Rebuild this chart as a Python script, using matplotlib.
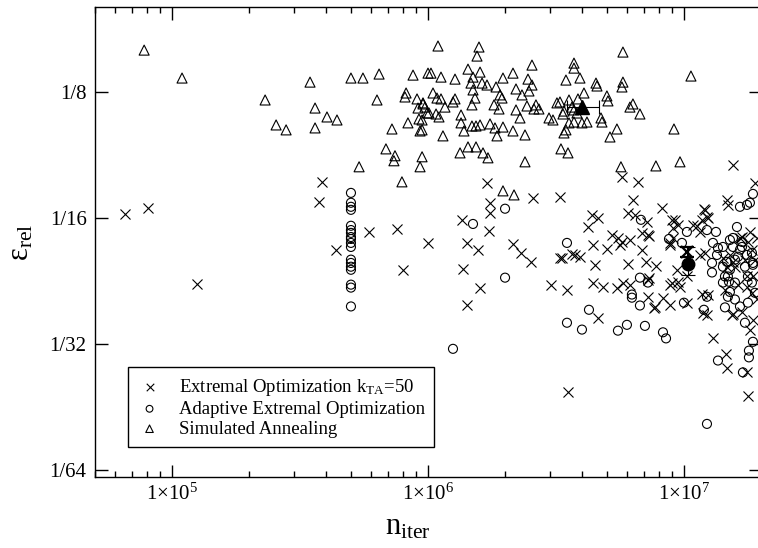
import matplotlib
matplotlib.use("Agg")
import matplotlib.pyplot as plt
from matplotlib.ticker import FixedLocator, FixedFormatter, LogLocator, NullLocator, NullFormatter

plt.rcParams["font.family"] = ["Liberation Serif", "DejaVu Serif"]
plt.rcParams["mathtext.fontset"] = "custom"
plt.rcParams["mathtext.rm"] = "Liberation Serif"
plt.rcParams["mathtext.it"] = "Liberation Serif:italic"

# Simulated Annealing (triangles)
sa_n = [7.78e4, 1.094e5, 3.46e5, 5.0e5, 5.57e5, 6.44e5, 8.74e5, 1.0e6, 2.31e5, 3.62e5,
        4.03e5, 4.41e5, 2.55e5, 2.79e5, 3.62e5, 6.32e5, 8.21e5, 8.13e5, 9.06e5, 9.56e5,
        9.14e5, 9.91e5, 9.22e5, 8.35e5, 7.23e5, 9.31e5, 6.85e5, 7.43e5, 7.36e5, 9.48e5,
        9.31e5, 5.38e5, 7.91e5, 1.094e6, 1.582e6, 1.554e6, 1.027e6, 1.124e6, 1.275e6, 1.433e6,
        1.597e6, 1.499e6, 1.472e6, 1.626e6, 1.70e6, 1.499e6, 1.844e6, 1.963e6, 2.148e6, 2.548e6,
        2.458e6, 2.548e6, 2.207e6, 2.48e6, 2.329e6, 1.046e6, 1.084e6, 1.124e6, 1.275e6, 1.252e6,
        9.56e5, 9.73e5, 1.165e6, 1.526e6, 1.485e6, 1.911e6, 1.946e6, 1.811e6, 1.894e6, 2.436e6,
        2.641e6, 2.594e6, 2.713e6, 2.207e6, 2.288e6, 1.009e6, 1.075e6, 1.104e6, 1.346e6, 1.346e6,
        1.485e6, 1.54e6, 1.597e6, 1.382e6, 1.747e6, 1.827e6, 1.963e6, 2.148e6, 1.86e6, 2.393e6,
        1.144e6, 9.48e5, 9.48e5, 1.334e6, 1.433e6, 1.54e6, 1.64e6, 1.715e6, 2.393e6, 3.19e6,
        3.278e6, 3.555e6, 3.854e6, 4.068e6, 3.459e6, 3.718e6, 3.718e6, 3.924e6, 2.97e6, 3.078e6,
        3.367e6, 3.398e6, 3.652e6, 3.718e6, 3.819e6, 3.555e6, 3.718e6, 3.995e6, 4.179e6, 3.459e6,
        3.398e6, 3.307e6, 3.523e6, 5.776e6, 1.065e7, 4.532e6, 4.573e6, 5.776e6, 5.724e6, 5.0e6,
        5.048e6, 6.32e6, 6.151e6, 6.73e6, 4.74e6, 4.783e6, 5.472e6, 5.14e6, 9.14e6, 5.673e6,
        7.77e6, 9.65e6, 1.963e6, 2.168e6]
sa_eps = [0.1577, 0.1352, 0.1322, 0.1352, 0.1352, 0.1382, 0.1374, 0.1389, 0.1198, 0.1146,
          0.1091, 0.1073, 0.1044, 0.1016, 0.1027, 0.1198, 0.1245, 0.1218, 0.1205, 0.1172,
          0.1146, 0.1115, 0.1079, 0.1056, 0.1021, 0.1010, 0.0915, 0.0881, 0.0857, 0.0876,
          0.0829, 0.0829, 0.0763, 0.1613, 0.1604, 0.1526, 0.1389, 0.1359, 0.1344, 0.1420,
          0.1397, 0.1359, 0.1315, 0.1315, 0.1301, 0.1266, 0.1287, 0.1352, 0.1389, 0.1452,
          0.1344, 0.1301, 0.1273, 0.1259, 0.1232, 0.1245, 0.1211, 0.1205, 0.1205, 0.1185,
          0.1179, 0.1152, 0.1152, 0.1211, 0.1166, 0.1232, 0.1211, 0.1166, 0.1140, 0.1159,
          0.1166, 0.1140, 0.1140, 0.1134, 0.1085, 0.1115, 0.1109, 0.1091, 0.1103, 0.1056,
          0.1038, 0.1038, 0.1044, 0.1010, 0.1050, 0.1027, 0.1032, 0.1010, 0.0983, 0.0988,
          0.0983, 0.1073, 0.1016, 0.0895, 0.0925, 0.0925, 0.0895, 0.0871, 0.0852, 0.1179,
          0.1185, 0.1198, 0.1205, 0.1245, 0.1337, 0.1468, 0.1428, 0.1352, 0.1085, 0.1073,
          0.1109, 0.1127, 0.1152, 0.1134, 0.1115, 0.1056, 0.1061, 0.1056, 0.1061, 0.1016,
          0.0999, 0.0915, 0.0895, 0.1560, 0.1367, 0.1315, 0.1294, 0.1322, 0.1287, 0.1225,
          0.1192, 0.1172, 0.1152, 0.1109, 0.1085, 0.1061, 0.1021, 0.0977, 0.1021, 0.0829,
          0.0833, 0.0852, 0.0726, 0.0710]

# Extremal Optimization k_TA=50 (crosses)
eo_n = [6.55e4, 8.06e4, 1.252e5, 3.85e5, 3.75e5, 4.37e5, 5.88e5, 7.57e5, 7.99e5, 1.0e6,
        1.70e6, 2.571e6, 3.278e6, 1.747e6, 1.747e6, 1.358e6, 1.731e6, 1.42e6, 1.568e6, 2.148e6,
        2.309e6, 2.525e6, 3.278e6, 1.37e6, 1.597e6, 1.42e6, 3.024e6, 3.491e6, 5.724e6, 6.61e6,
        6.32e6, 8.21e6, 1.554e7, 1.894e7, 4.372e6, 4.614e6, 4.217e6, 6.041e6, 6.43e6, 7.17e6,
        6.85e6, 7.30e6, 5.233e6, 5.522e6, 6.151e6, 4.411e6, 5.003e6, 5.623e6, 6.85e6, 3.652e6,
        3.924e6, 4.491e6, 6.041e6, 7.11e6, 7.77e6, 8.98e6, 9.06e6, 8.82e6, 9.06e6, 1.084e7,
        1.176e7, 1.208e7, 1.241e7, 1.155e7, 1.208e7, 9.39e6, 1.027e7, 9.48e6, 8.82e6, 9.65e6,
        7.30e6, 4.411e6, 4.826e6, 5.472e6, 5.776e6, 6.151e6, 7.23e6, 8.28e6, 7.70e6, 8.82e6,
        1.027e7, 1.176e7, 1.186e7, 1.54e7, 4.614e6, 1.298e7, 1.472e7, 1.485e7, 9.22e6, 9.48e6,
        1.124e7, 1.197e7, 1.23e7, 5.724e6, 7.23e6, 3.752e6, 3.337e6, 8.82e6, 8.98e6, 1.155e7,
        1.42e7, 1.472e7, 7.23e6, 1.241e7, 7.64e6, 1.23e7, 1.459e7, 1.472e7, 1.763e7, 1.778e7,
        3.523e6, 1.554e7, 1.685e7, 1.81e7, 1.86e7, 1.843e7, 1.928e7, 1.655e7, 1.778e7, 1.843e7,
        1.731e7, 1.894e7, 1.763e7, 1.86e7, 1.763e7, 1.554e7, 1.685e7, 1.81e7, 1.928e7, 1.512e7,
        1.582e7, 1.626e7, 1.446e7]
eo_eps = [0.0640, 0.0661, 0.0435, 0.0763, 0.0684, 0.0525, 0.0579, 0.0589, 0.0470, 0.0545,
          0.0759, 0.0699, 0.0703, 0.0680, 0.0643, 0.0619, 0.0582, 0.0545, 0.0525, 0.0542,
          0.0516, 0.0491, 0.0502, 0.0473, 0.0426, 0.0388, 0.0433, 0.0421, 0.0785, 0.0763,
          0.0692, 0.0661, 0.0838, 0.0759, 0.0636, 0.0626, 0.0595, 0.0643, 0.0636, 0.0612,
          0.0576, 0.0566, 0.0569, 0.0560, 0.0554, 0.0539, 0.0527, 0.0539, 0.0525, 0.0513,
          0.0505, 0.0483, 0.0486, 0.0491, 0.0481, 0.0619, 0.0592, 0.0545, 0.0560, 0.0602,
          0.0619, 0.0654, 0.0626, 0.0579, 0.0516, 0.0470, 0.0453, 0.0440, 0.0433, 0.0428,
          0.0450, 0.0438, 0.0428, 0.0426, 0.0438, 0.0433, 0.0405, 0.0403, 0.0382, 0.0388,
          0.0392, 0.0412, 0.0371, 0.0367, 0.0361, 0.0322, 0.0692, 0.0672, 0.0619, 0.0602,
          0.0599, 0.0658, 0.0629, 0.0548, 0.0569, 0.0510, 0.0502, 0.0539, 0.0438, 0.0510,
          0.0502, 0.0478, 0.0445, 0.0410, 0.0380, 0.0367, 0.0295, 0.0273, 0.0268, 0.0234,
          0.0240, 0.0369, 0.0373, 0.0338, 0.0357, 0.0414, 0.0399, 0.0560, 0.0548, 0.0525,
          0.0497, 0.0497, 0.0453, 0.0453, 0.0428, 0.0491, 0.0563, 0.0579, 0.0560, 0.0510,
          0.0478, 0.0433, 0.0421]

# Adaptive Extremal Optimization (circles)
aeo_n = [5.0e5, 5.0e5, 5.0e5, 5.0e5, 5.0e5, 5.0e5, 5.0e5, 5.0e5, 5.0e5, 5.0e5,
         5.0e5, 5.0e5, 5.0e5, 5.0e5, 5.0e5, 5.0e5, 5.0e5, 5.0e5, 2.0e6, 1.499e6,
         2.0e6, 3.491e6, 3.491e6, 1.252e6, 6.79e6, 8.74e6, 9.82e6, 1.027e7, 1.23e7, 1.334e7,
         1.298e7, 1.358e7, 1.287e7, 1.346e7, 1.42e7, 1.287e7, 1.512e7, 1.485e7, 1.582e7, 1.611e7,
         1.655e7, 1.763e7, 1.86e7, 1.81e7, 1.512e7, 1.554e7, 1.685e7, 1.626e7, 1.763e7, 1.731e7,
         1.86e7, 6.73e6, 7.23e6, 6.26e6, 6.26e6, 1.23e7, 1.512e7, 1.843e7, 1.894e7, 1.485e7,
         1.42e7, 1.42e7, 6.73e6, 4.255e6, 3.995e6, 5.522e6, 5.987e6, 7.04e6, 8.28e6, 8.51e6,
         1.0e7, 1.197e7, 1.446e7, 1.582e7, 1.655e7, 1.731e7, 1.86e7, 1.794e7, 1.794e7, 1.358e7,
         1.70e7, 1.23e7, 1.446e7, 1.499e7, 1.778e7, 1.472e7, 1.582e7, 1.655e7, 1.554e7, 1.685e7,
         1.843e7, 1.86e7, 1.778e7]
aeo_eps = [0.0718, 0.0680, 0.0665, 0.0654, 0.0599, 0.0585, 0.0576, 0.0563, 0.0557, 0.0545,
           0.0533, 0.0497, 0.0488, 0.0478, 0.0470, 0.0433, 0.0426, 0.0384, 0.0658, 0.0605,
           0.0450, 0.0545, 0.0351, 0.0304, 0.0619, 0.0557, 0.0545, 0.0579, 0.0585, 0.0579,
           0.0545, 0.0530, 0.0488, 0.0510, 0.0478, 0.0463, 0.0470, 0.0453, 0.0438, 0.0595,
           0.0665, 0.0672, 0.0714, 0.0680, 0.0554, 0.0533, 0.0533, 0.0505, 0.0510, 0.0478,
           0.0488, 0.0450, 0.0438, 0.0410, 0.0403, 0.0405, 0.0416, 0.0438, 0.0414, 0.0405,
           0.0438, 0.0533, 0.0386, 0.0377, 0.0338, 0.0336, 0.0347, 0.0345, 0.0333, 0.0322,
           0.0392, 0.0377, 0.0382, 0.0399, 0.0384, 0.0351, 0.0316, 0.0301, 0.0290, 0.0285,
           0.0267, 0.0201, 0.0453, 0.0440, 0.0392, 0.0491, 0.0497, 0.0525, 0.0560, 0.0548,
           0.0516, 0.0483, 0.0453]

# averages with error bars
sa_mean = (4.0e6, 0.1152)
sa_xerr = ([4.0e6 - 3.49e6], [4.66e6 - 4.0e6])
eo_mean = (1.03e7, 0.0519)
eo_yerr = ([0.0519 - 0.0505], [0.0533 - 0.0519])
aeo_mean = (1.037e7, 0.0486)
aeo_yerr = ([0.0486 - 0.0457], [0.0534 - 0.0486])

xticks = [1e5, 1e6, 1e7]
xtick_labels = [r"$\mathregular{1{\times}10^{5}}$", r"$\mathregular{1{\times}10^{6}}$",
                r"$\mathregular{1{\times}10^{7}}$"]
yticks = [1 / 64, 1 / 32, 1 / 16, 1 / 8]
ytick_labels = ["1/64", "1/32", "1/16", "1/8"]

fig = plt.figure(figsize=(7.58, 5.48), dpi=100)
ax = fig.add_axes([95 / 758, 1 - 477 / 548, 666 / 758, 470 / 548])

ax.scatter(eo_n, eo_eps, marker="x", s=52, c="black", linewidths=0.8,
           label=r"Extremal Optimization k$_{\mathregular{TA}}$=50", zorder=3)
ax.scatter(aeo_n, aeo_eps, marker="o", s=42, facecolors="none", edgecolors="black",
           linewidths=0.8, label="Adaptive Extremal Optimization", zorder=3)
ax.scatter(sa_n, sa_eps, marker="^", s=52, facecolors="none", edgecolors="black",
           linewidths=0.8, label="Simulated Annealing", zorder=3)

ax.errorbar([sa_mean[0]], [sa_mean[1]], xerr=sa_xerr, fmt="^",
            color="black", ms=10, capsize=5, elinewidth=0.8, capthick=0.8, zorder=4)
ax.errorbar([eo_mean[0]], [eo_mean[1]], yerr=eo_yerr, fmt="x",
            color="black", ms=9, mew=1.6, capsize=5, elinewidth=0.8, capthick=0.8, zorder=4)
ax.errorbar([aeo_mean[0]], [aeo_mean[1]], yerr=aeo_yerr, fmt="o",
            color="black", ms=9, capsize=5, elinewidth=0.8, capthick=0.8, zorder=4)

ax.set_xscale("log")
ax.set_yscale("log", base=2)
ax.set_xlim(5e4, 2e7)
ax.set_ylim(0.015, 0.2)

ax.xaxis.set_major_locator(FixedLocator(xticks))
ax.xaxis.set_major_formatter(FixedFormatter(xtick_labels))
ax.xaxis.set_minor_locator(LogLocator(base=10, subs=range(2, 10)))
ax.xaxis.set_minor_formatter(NullFormatter())
ax.yaxis.set_major_locator(FixedLocator(yticks))
ax.yaxis.set_major_formatter(FixedFormatter(ytick_labels))
ax.yaxis.set_minor_locator(NullLocator())

ax.tick_params(which="both", direction="in", top=True, right=True, width=1.0)
ax.tick_params(which="major", length=9, labelsize=15)
ax.tick_params(axis="x", which="major", pad=5)
ax.tick_params(axis="y", which="major", pad=6)
ax.tick_params(which="minor", length=4.5)
for s in ax.spines.values():
    s.set_linewidth(1.0)

ax.set_xlabel(r"n$_{\mathregular{iter}}$", fontsize=22)
ax.set_ylabel(r"$\mathregular{\varepsilon_{rel}}$", fontsize=22)
ax.xaxis.set_label_coords(0.47, -0.075)
ax.yaxis.set_label_coords(-0.09, 0.5)

leg = ax.legend(loc="lower left", bbox_to_anchor=(0.0495, 0.0638), borderaxespad=0,
                fontsize=13.5, frameon=True, fancybox=False, framealpha=1,
                edgecolor="black", markerscale=0.75, borderpad=0.5, handlelength=1.3,
                handletextpad=0.9, labelspacing=0.15)
leg.get_frame().set_linewidth(1.0)

fig.savefig("out.png", dpi=100)
